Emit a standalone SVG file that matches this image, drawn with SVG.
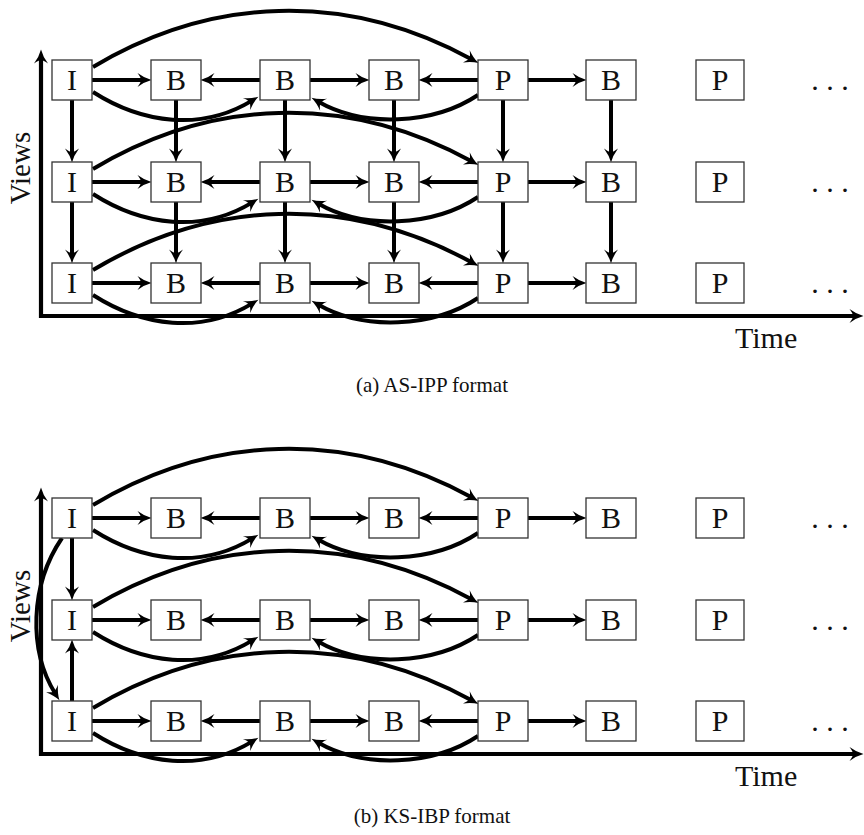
<svg xmlns="http://www.w3.org/2000/svg" width="864" height="835" viewBox="0 0 864 835">
<style>
.box{fill:#fff;stroke:#333;stroke-width:1.3}
.lbl{font-family:"Liberation Serif","Times New Roman",serif;font-size:30px;fill:#111;text-anchor:middle}
.txt{font-family:"Liberation Serif","Times New Roman",serif;fill:#111}
.c{fill:none;stroke:#000;stroke-width:4;marker-end:url(#ah)}
.ax{fill:none;stroke:#000;stroke-width:4.2;marker-end:url(#ah);marker-start:url(#ahs)}
</style>
<defs>
<marker id="ah" markerUnits="userSpaceOnUse" markerWidth="30" markerHeight="30" refX="0" refY="0" orient="auto" overflow="visible">
<path d="M7.5,0 Q0.5,1.8 -6.5,7 Q-3,2.4 -3,0 Q-3,-2.4 -6.5,-7 Q0.5,-1.8 7.5,0 Z" fill="#000"/>
</marker>
<marker id="ahs" markerUnits="userSpaceOnUse" markerWidth="30" markerHeight="30" refX="0" refY="0" orient="auto-start-reverse" overflow="visible">
<path d="M7.5,0 Q0.5,1.8 -6.5,7 Q-3,2.4 -3,0 Q-3,-2.4 -6.5,-7 Q0.5,-1.8 7.5,0 Z" fill="#000"/>
</marker>
</defs>
<rect width="864" height="835" fill="#fff"/>

<!-- ===== (a) AS-IPP ===== -->
<g id="a-connectors">
<path class="ax" d="M41,57 V316 H856"/>
<!-- row 1 -->
<path class="c" d="M92,80 H144"/>
<path class="c" d="M260,80 H208"/>
<path class="c" d="M310,80 H362"/>
<path class="c" d="M478,80 H426"/>
<path class="c" d="M528,80 H579"/>
<path class="c" d="M93,67 C210,-3 345,-10 472,59.5"/>
<path class="c" d="M93,92 C143,124 202,131 252,100.6"/>
<path class="c" d="M478,95 C433,125 363,127.5 318,101.5"/>
<!-- row 2 -->
<path class="c" d="M92,182 H144"/>
<path class="c" d="M260,182 H208"/>
<path class="c" d="M310,182 H362"/>
<path class="c" d="M478,182 H426"/>
<path class="c" d="M528,182 H579"/>
<path class="c" d="M93,169 C210,99 345,92 472,161.5"/>
<path class="c" d="M93,194 C143,226 202,233 252,202.6"/>
<path class="c" d="M478,197 C433,227 363,229.5 318,203.5"/>
<!-- row 3 -->
<path class="c" d="M92,283 H144"/>
<path class="c" d="M260,283 H208"/>
<path class="c" d="M310,283 H362"/>
<path class="c" d="M478,283 H426"/>
<path class="c" d="M528,283 H579"/>
<path class="c" d="M93,270 C210,200 345,193 472,262.5"/>
<path class="c" d="M93,295 C143,327 202,334 252,303.6"/>
<path class="c" d="M478,298 C433,328 363,330.5 318,304.5"/>
<!-- verticals -->
<path class="c" d="M72,100 V155"/>
<path class="c" d="M176,100 V155"/>
<path class="c" d="M285,100 V155"/>
<path class="c" d="M394,100 V155"/>
<path class="c" d="M503,100 V155"/>
<path class="c" d="M611,100 V155"/>
<path class="c" d="M72,202 V256"/>
<path class="c" d="M176,202 V256"/>
<path class="c" d="M285,202 V256"/>
<path class="c" d="M394,202 V256"/>
<path class="c" d="M503,202 V256"/>
<path class="c" d="M611,202 V256"/>
</g>

<g id="a-r1-I"><rect class="box" x="52" y="60" width="40" height="40"/><text class="lbl" x="72" y="90">I</text></g>
<g id="a-r1-B1"><rect class="box" x="151" y="60" width="50" height="40"/><text class="lbl" x="176" y="90">B</text></g>
<g id="a-r1-B2"><rect class="box" x="260" y="60" width="50" height="40"/><text class="lbl" x="285" y="90">B</text></g>
<g id="a-r1-B3"><rect class="box" x="369" y="60" width="50" height="40"/><text class="lbl" x="394" y="90">B</text></g>
<g id="a-r1-P1"><rect class="box" x="478" y="60" width="50" height="40"/><text class="lbl" x="503" y="90">P</text></g>
<g id="a-r1-B4"><rect class="box" x="586" y="60" width="50" height="40"/><text class="lbl" x="611" y="90">B</text></g>
<g id="a-r1-P2"><rect class="box" x="696" y="60" width="48" height="40"/><text class="lbl" x="720" y="90">P</text></g>
<g id="a-r1-dots"><text class="lbl" x="830" y="90" letter-spacing="0">. . .</text></g>

<g id="a-r2-I"><rect class="box" x="52" y="162" width="40" height="40"/><text class="lbl" x="72" y="192">I</text></g>
<g id="a-r2-B1"><rect class="box" x="151" y="162" width="50" height="40"/><text class="lbl" x="176" y="192">B</text></g>
<g id="a-r2-B2"><rect class="box" x="260" y="162" width="50" height="40"/><text class="lbl" x="285" y="192">B</text></g>
<g id="a-r2-B3"><rect class="box" x="369" y="162" width="50" height="40"/><text class="lbl" x="394" y="192">B</text></g>
<g id="a-r2-P1"><rect class="box" x="478" y="162" width="50" height="40"/><text class="lbl" x="503" y="192">P</text></g>
<g id="a-r2-B4"><rect class="box" x="586" y="162" width="50" height="40"/><text class="lbl" x="611" y="192">B</text></g>
<g id="a-r2-P2"><rect class="box" x="696" y="162" width="48" height="40"/><text class="lbl" x="720" y="192">P</text></g>
<g id="a-r2-dots"><text class="lbl" x="830" y="192">. . .</text></g>

<g id="a-r3-I"><rect class="box" x="52" y="263" width="40" height="40"/><text class="lbl" x="72" y="293">I</text></g>
<g id="a-r3-B1"><rect class="box" x="151" y="263" width="50" height="40"/><text class="lbl" x="176" y="293">B</text></g>
<g id="a-r3-B2"><rect class="box" x="260" y="263" width="50" height="40"/><text class="lbl" x="285" y="293">B</text></g>
<g id="a-r3-B3"><rect class="box" x="369" y="263" width="50" height="40"/><text class="lbl" x="394" y="293">B</text></g>
<g id="a-r3-P1"><rect class="box" x="478" y="263" width="50" height="40"/><text class="lbl" x="503" y="293">P</text></g>
<g id="a-r3-B4"><rect class="box" x="586" y="263" width="50" height="40"/><text class="lbl" x="611" y="293">B</text></g>
<g id="a-r3-P2"><rect class="box" x="696" y="263" width="48" height="40"/><text class="lbl" x="720" y="293">P</text></g>
<g id="a-r3-dots"><text class="lbl" x="830" y="293">. . .</text></g>

<g id="a-labels">
<text class="txt" font-size="29" transform="translate(30,168) rotate(-90)" text-anchor="middle">Views</text>
<text class="txt" font-size="30" x="735" y="348">Time</text>
<text class="txt" font-size="21" x="432" y="392" text-anchor="middle">(a) AS-IPP format</text>
</g>

<!-- ===== (b) KS-IBP ===== -->
<g id="b-connectors">
<path class="ax" d="M41,495 V754 H856"/>
<!-- row 1 -->
<path class="c" d="M92,518 H144"/>
<path class="c" d="M260,518 H208"/>
<path class="c" d="M310,518 H362"/>
<path class="c" d="M478,518 H426"/>
<path class="c" d="M528,518 H579"/>
<path class="c" d="M93,505 C210,435 345,428 472,497.5"/>
<path class="c" d="M93,530 C143,562 202,569 252,538.6"/>
<path class="c" d="M478,533 C433,563 363,565.5 318,539.5"/>
<!-- row 2 -->
<path class="c" d="M92,620 H144"/>
<path class="c" d="M260,620 H208"/>
<path class="c" d="M310,620 H362"/>
<path class="c" d="M478,620 H426"/>
<path class="c" d="M528,620 H579"/>
<path class="c" d="M93,607 C210,537 345,530 472,599.5"/>
<path class="c" d="M93,632 C143,664 202,671 252,640.6"/>
<path class="c" d="M478,635 C433,665 363,667.5 318,641.5"/>
<!-- row 3 -->
<path class="c" d="M92,721 H144"/>
<path class="c" d="M260,721 H208"/>
<path class="c" d="M310,721 H362"/>
<path class="c" d="M478,721 H426"/>
<path class="c" d="M528,721 H579"/>
<path class="c" d="M93,708 C210,638 345,631 472,700.5"/>
<path class="c" d="M93,733 C143,765 202,772 252,741.6"/>
<path class="c" d="M478,736 C433,766 363,768.5 318,742.5"/>
<!-- view dependencies -->
<path class="c" d="M72,538 V593"/>
<path class="c" d="M72,701 V647"/>
<path class="c" d="M62,538 C30,585 28,650 55.5,694"/>
</g>

<g id="b-r1-I"><rect class="box" x="52" y="498" width="40" height="40"/><text class="lbl" x="72" y="528">I</text></g>
<g id="b-r1-B1"><rect class="box" x="151" y="498" width="50" height="40"/><text class="lbl" x="176" y="528">B</text></g>
<g id="b-r1-B2"><rect class="box" x="260" y="498" width="50" height="40"/><text class="lbl" x="285" y="528">B</text></g>
<g id="b-r1-B3"><rect class="box" x="369" y="498" width="50" height="40"/><text class="lbl" x="394" y="528">B</text></g>
<g id="b-r1-P1"><rect class="box" x="478" y="498" width="50" height="40"/><text class="lbl" x="503" y="528">P</text></g>
<g id="b-r1-B4"><rect class="box" x="586" y="498" width="50" height="40"/><text class="lbl" x="611" y="528">B</text></g>
<g id="b-r1-P2"><rect class="box" x="696" y="498" width="48" height="40"/><text class="lbl" x="720" y="528">P</text></g>
<g id="b-r1-dots"><text class="lbl" x="830" y="528">. . .</text></g>

<g id="b-r2-I"><rect class="box" x="52" y="600" width="40" height="40"/><text class="lbl" x="72" y="630">I</text></g>
<g id="b-r2-B1"><rect class="box" x="151" y="600" width="50" height="40"/><text class="lbl" x="176" y="630">B</text></g>
<g id="b-r2-B2"><rect class="box" x="260" y="600" width="50" height="40"/><text class="lbl" x="285" y="630">B</text></g>
<g id="b-r2-B3"><rect class="box" x="369" y="600" width="50" height="40"/><text class="lbl" x="394" y="630">B</text></g>
<g id="b-r2-P1"><rect class="box" x="478" y="600" width="50" height="40"/><text class="lbl" x="503" y="630">P</text></g>
<g id="b-r2-B4"><rect class="box" x="586" y="600" width="50" height="40"/><text class="lbl" x="611" y="630">B</text></g>
<g id="b-r2-P2"><rect class="box" x="696" y="600" width="48" height="40"/><text class="lbl" x="720" y="630">P</text></g>
<g id="b-r2-dots"><text class="lbl" x="830" y="630">. . .</text></g>

<g id="b-r3-I"><rect class="box" x="52" y="701" width="40" height="40"/><text class="lbl" x="72" y="731">I</text></g>
<g id="b-r3-B1"><rect class="box" x="151" y="701" width="50" height="40"/><text class="lbl" x="176" y="731">B</text></g>
<g id="b-r3-B2"><rect class="box" x="260" y="701" width="50" height="40"/><text class="lbl" x="285" y="731">B</text></g>
<g id="b-r3-B3"><rect class="box" x="369" y="701" width="50" height="40"/><text class="lbl" x="394" y="731">B</text></g>
<g id="b-r3-P1"><rect class="box" x="478" y="701" width="50" height="40"/><text class="lbl" x="503" y="731">P</text></g>
<g id="b-r3-B4"><rect class="box" x="586" y="701" width="50" height="40"/><text class="lbl" x="611" y="731">B</text></g>
<g id="b-r3-P2"><rect class="box" x="696" y="701" width="48" height="40"/><text class="lbl" x="720" y="731">P</text></g>
<g id="b-r3-dots"><text class="lbl" x="830" y="731">. . .</text></g>

<g id="b-labels">
<text class="txt" font-size="29" transform="translate(30,606) rotate(-90)" text-anchor="middle">Views</text>
<text class="txt" font-size="30" x="735" y="786">Time</text>
<text class="txt" font-size="21" x="432" y="823" text-anchor="middle">(b) KS-IBP format</text>
</g>
</svg>
